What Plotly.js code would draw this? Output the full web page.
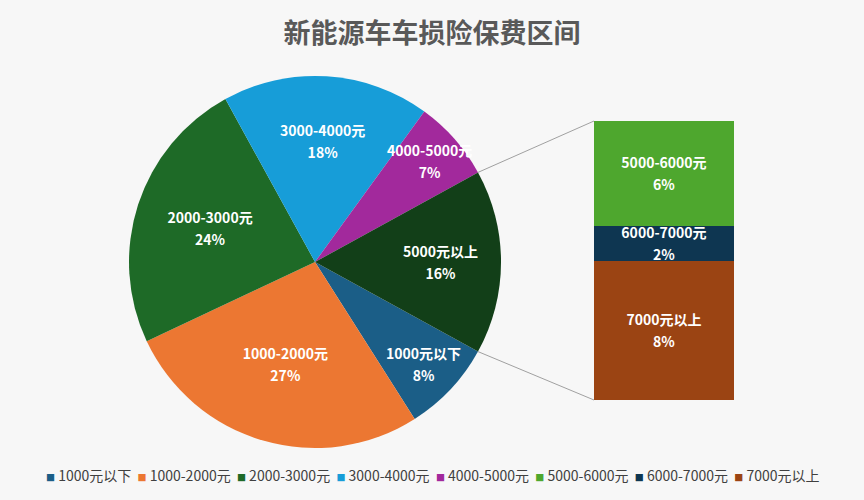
<!DOCTYPE html>
<html>
<head>
<meta charset="utf-8">
<script src="https://cdn.plot.ly/plotly-3.0.1.min.js"></script>
<style>html,body{margin:0;padding:0;background:#f7f7f7;}#chart{width:864px;height:500px;}</style>
</head>
<body>
<div id="chart"></div>
<script>
// ---- data ----
const titleText = '新能源车车损险保费区间';
const pieLabels = ['1000元以下', '1000-2000元', '2000-3000元', '3000-4000元', '4000-5000元', '5000元以上'];
const pieValues = [8, 27, 24, 18, 7, 16];
const pieColors = ['#1b5e87', '#ec7732', '#1e6a27', '#179dd8', '#a2299c', '#123f18'];
const barLabels = ['5000-6000元', '6000-7000元', '7000元以上'];
const barValues = [6, 2, 8];
const barColors = ['#4ea72e', '#0e3651', '#9b4413'];

// ---- layout constants ----
const W = 864, H = 500;
const pieDomX = [0.1493, 0.5799], pieDomY = [0.104, 0.848];
const barDomX = [0.6875, 0.8495], barDomY = [0.20, 0.758];
const FONT = '"Noto Sans CJK SC", "Noto Sans", sans-serif';

const pieTotal = pieValues.reduce((a, b) => a + b, 0);
const lastShare = pieValues[pieValues.length - 1] / pieTotal;
const rotation = 90 + lastShare * 180; // centre the split-out slice on 3 o'clock

const tmpl = '<span style="font-size:14px">%{label}</span><br><span style="font-size:14px">%{value}%</span>';

const traces = [];
traces.push({
  type: 'pie',
  labels: pieLabels,
  values: pieValues,
  marker: {colors: pieColors, line: {width: 0}},
  sort: false,
  direction: 'clockwise',
  rotation: rotation,
  domain: {x: pieDomX, y: pieDomY},
  textposition: 'inside',
  insidetextorientation: 'horizontal',
  texttemplate: tmpl,
  textfont: {family: FONT, size: 17, color: '#ffffff', weight: 'bold'},
  hoverinfo: 'label+value',
  showlegend: false
});

// stacked bar, bottom segment first
for (let i = barLabels.length - 1; i >= 0; i--) {
  traces.push({
    type: 'bar',
    x: ['5000元以上'],
    y: [barValues[i]],
    name: barLabels[i],
    marker: {color: barColors[i], line: {width: 0}},
    text: [barLabels[i]],
    texttemplate: '<span style="font-size:14px">%{text}</span><br><span style="font-size:14px">%{y}%</span>',
    textposition: 'inside',
    insidetextanchor: 'middle',
    textfont: {family: FONT, size: 17, color: '#ffffff', weight: 'bold'},
    showlegend: false,
    width: 1
  });
}

const barTotal = barValues.reduce((a, b) => a + b, 0);

// connector lines from split slice edges to bar corners
const cx = W * (pieDomX[0] + pieDomX[1]) / 2;
const cy = H * (1 - (pieDomY[0] + pieDomY[1]) / 2);
const r = Math.min(W * (pieDomX[1] - pieDomX[0]), H * (pieDomY[1] - pieDomY[0])) / 2;
function edgePoint(compassDeg) {
  const a = compassDeg * Math.PI / 180;
  const px = cx + r * Math.sin(a), py = cy - r * Math.cos(a);
  return [px / W, 1 - py / H];
}
const upper = edgePoint(rotation + 360 * (1 - lastShare));
const lower = edgePoint(rotation);
const shapes = [
  {type: 'line', xref: 'paper', yref: 'paper', x0: upper[0], y0: upper[1], x1: barDomX[0], y1: barDomY[1], line: {color: '#a0a0a0', width: 1}},
  {type: 'line', xref: 'paper', yref: 'paper', x0: lower[0], y0: lower[1], x1: barDomX[0], y1: barDomY[0], line: {color: '#a0a0a0', width: 1}}
];

// legend as one text line built from the data
const legLabels = pieLabels.slice(0, pieLabels.length - 1).concat(barLabels);
const legColors = pieColors.slice(0, pieColors.length - 1).concat(barColors);
const legendText = legLabels.map((l, i) =>
  '<span style="color:' + legColors[i] + ';font-size:9px">■</span>\u00a0' + l
).join('\u00a0\u00a0');

const layout = {
  width: W, height: H,
  margin: {l: 0, r: 0, t: 0, b: 0},
  paper_bgcolor: '#f7f7f7',
  plot_bgcolor: 'rgba(0,0,0,0)',
  title: {text: titleText, x: 0.5, xanchor: 'center', y: 0.932, yanchor: 'middle', yref: 'paper',
          font: {family: FONT, size: 27, color: '#595959', weight: 'bold'}},
  barmode: 'stack',
  bargap: 0,
  xaxis: {domain: barDomX, visible: false, range: [-0.5, 0.5], fixedrange: true},
  yaxis: {domain: barDomY, visible: false, range: [0, barTotal], fixedrange: true},
  uniformtext: {mode: 'show', minsize: 17},
  showlegend: false,
  shapes: shapes,
  annotations: [{
    xref: 'paper', yref: 'paper', x: 0.5, y: 1 - 475 / H, xanchor: 'center', yanchor: 'middle',
    showarrow: false, text: legendText,
    font: {family: FONT, size: 14, color: '#404040'}
  }]
};

Plotly.newPlot('chart', traces, layout, {displayModeBar: false, staticPlot: true});
</script>
</body>
</html>
